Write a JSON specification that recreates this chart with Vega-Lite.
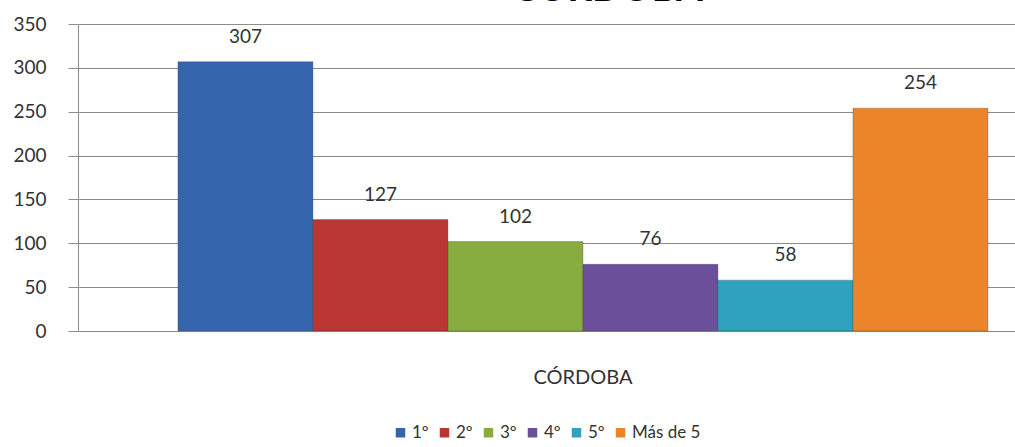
{
  "$schema": "https://vega.github.io/schema/vega-lite/v6.json",
  "autosize": {"type": "none"},
  "padding": {"left": 78, "top": 24, "right": 0, "bottom": 116},
  "width": 937,
  "height": 307,
  "background": "white",
  "title": {
    "text": "CÓRDOBA",
    "fontSize": 38,
    "fontWeight": "bold",
    "font": "Lato",
    "color": "#000000",
    "anchor": "middle",
    "frame": "group",
    "dx": 61,
    "dy": 24,
    "offset": 0,
    "baseline": "alphabetic"
  },
  "data": {
    "values": [
      {"region": "CÓRDOBA", "serie": "1º", "valor": 307},
      {"region": "CÓRDOBA", "serie": "2º", "valor": 127},
      {"region": "CÓRDOBA", "serie": "3º", "valor": 102},
      {"region": "CÓRDOBA", "serie": "4º", "valor": 76},
      {"region": "CÓRDOBA", "serie": "5º", "valor": 58},
      {"region": "CÓRDOBA", "serie": "Más de 5", "valor": 254}
    ]
  },
  "encoding": {
    "x": {
      "field": "region",
      "type": "nominal",
      "scale": {"paddingInner": 0, "paddingOuter": 0.0784, "align": 0.787},
      "axis": {
        "title": null,
        "labelAngle": 0,
        "ticks": false,
        "labelPadding": 36,
        "labelFontSize": 20,
        "labelFont": "Lato",
        "labelColor": "#333333",
        "domainColor": "#8c8c8c"
      }
    },
    "xOffset": {
      "field": "serie",
      "type": "nominal",
      "sort": ["1º", "2º", "3º", "4º", "5º", "Más de 5"],
      "scale": {"paddingInner": 0, "paddingOuter": 0}
    },
    "y": {
      "field": "valor",
      "type": "quantitative",
      "scale": {"domain": [0, 350], "nice": false},
      "axis": {
        "title": null,
        "values": [0, 50, 100, 150, 200, 250, 300, 350],
        "tickSize": 10,
        "tickColor": "#8c8c8c",
        "gridColor": "#8c8c8c",
        "domainColor": "#8c8c8c",
        "labelFontSize": 19,
        "labelFont": "Lato",
        "labelColor": "#333333",
        "labelPadding": 22
      }
    }
  },
  "layer": [
    {
      "mark": {"type": "bar", "stroke": "#3a3a3a", "strokeWidth": 0.6, "strokeOpacity": 0.5},
      "encoding": {
        "color": {
          "field": "serie",
          "type": "nominal",
          "sort": ["1º", "2º", "3º", "4º", "5º", "Más de 5"],
          "scale": {
            "domain": ["1º", "2º", "3º", "4º", "5º", "Más de 5"],
            "range": ["#3566ad", "#b93633", "#88ac3f", "#6c4f9a", "#2fa2c0", "#ec8529"]
          },
          "legend": {
            "title": null,
            "orient": "none",
            "direction": "horizontal",
            "legendX": 314,
            "legendY": 400,
            "symbolType": "square",
            "symbolSize": 90,
            "symbolStrokeWidth": 0,
            "labelFontSize": 17,
            "labelFont": "Lato",
            "labelColor": "#333333",
            "labelOffset": 3,
            "columnPadding": 7
          }
        }
      }
    },
    {
      "mark": {"type": "text", "baseline": "bottom", "dy": -15, "fontSize": 19, "font": "Lato", "color": "#333333"},
      "encoding": {
        "text": {"field": "valor", "type": "quantitative"}
      }
    }
  ]
}
